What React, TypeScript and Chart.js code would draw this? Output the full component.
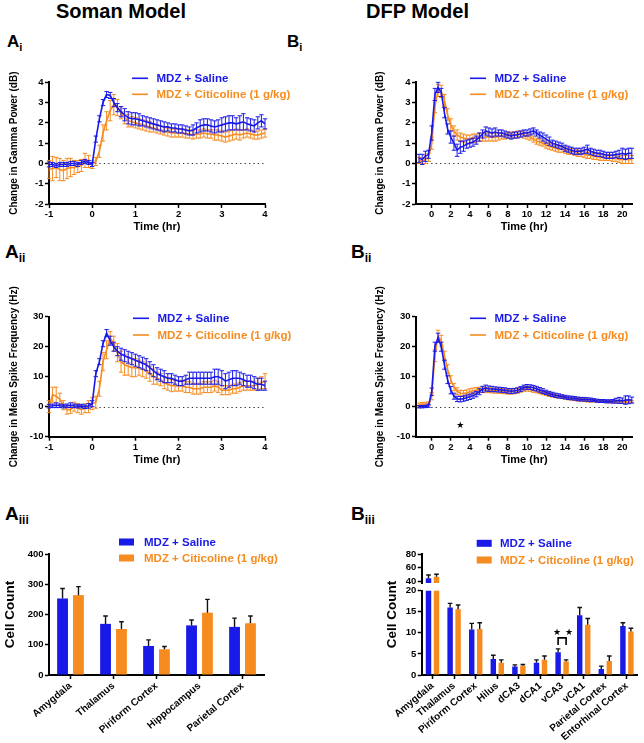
import React, { useEffect, useRef } from 'react';
import { Chart, registerables } from 'chart.js';

Chart.register(...registerables);

const FONT = "'Liberation Sans', Arial, Helvetica, sans-serif";
const BLUE = '#1919E8';
const ORANGE = '#F68B1F';
const LABEL_SALINE = 'MDZ + Saline';
const LABEL_CITI = 'MDZ + Citicoline (1 g/kg)';

// ---------- Soman model (A): 5-min bins, minutes from treatment ----------
const MIN_A = [
  -60, -55, -50, -45, -40, -35, -30, -25, -20, -15,
  -10, -5, 0, 5, 10, 15, 20, 25, 30, 35,
  40, 45, 50, 55, 60, 65, 70, 75, 80, 85,
  90, 95, 100, 105, 110, 115, 120, 125, 130, 135,
  140, 145, 150, 155, 160, 165, 170, 175, 180, 185,
  190, 195, 200, 205, 210, 215, 220, 225, 230, 235,
  240,
];
const AI_SALINE = [
  -0.05, -0.05, -0.1, -0.05, -0.05, -0.05, 0, 0, -0.05, 0.05,
  0.1, 0.05, -0.05, 1.2, 2.2, 3.0, 3.4, 3.35, 3.0, 2.75,
  2.55, 2.4, 2.25, 2.2, 2.2, 2.15, 2.1, 2.05, 2.0, 1.95,
  1.9, 1.85, 1.8, 1.8, 1.75, 1.75, 1.7, 1.7, 1.65, 1.6,
  1.65, 1.75, 1.85, 1.9, 1.9, 1.85, 1.8, 1.85, 1.9, 1.95,
  2.0, 2.0, 1.95, 2.0, 2.05, 1.95, 1.9, 1.85, 2.0, 2.1,
  1.95,
];
const AI_SALINE_ERR = [
  0.12, 0.1, 0.1, 0.1, 0.1, 0.1, 0.1, 0.1, 0.1, 0.1,
  0.1, 0.1, 0.1, 0.15, 0.15, 0.15, 0.15, 0.15, 0.2, 0.2,
  0.25, 0.3, 0.3, 0.3, 0.3, 0.3, 0.25, 0.25, 0.25, 0.25,
  0.25, 0.25, 0.25, 0.2, 0.2, 0.2, 0.2, 0.2, 0.2, 0.2,
  0.25, 0.25, 0.3, 0.3, 0.3, 0.3, 0.3, 0.3, 0.35, 0.35,
  0.35, 0.35, 0.3, 0.35, 0.4, 0.3, 0.3, 0.3, 0.3, 0.3,
  0.25,
];
const AI_CITI = [
  -0.3, -0.25, -0.2, -0.3, -0.35, -0.25, -0.2, -0.2, -0.15, -0.1,
  0.15, 0.1, -0.05, 0.1, 0.6, 1.5, 2.1, 2.6, 2.9, 2.75,
  2.5, 2.25, 2.1, 2.05, 2.0, 1.95, 1.9, 1.85, 1.8, 1.75,
  1.7, 1.65, 1.6, 1.55, 1.5, 1.5, 1.5, 1.5, 1.45, 1.45,
  1.4, 1.45, 1.45, 1.5, 1.45, 1.45, 1.4, 1.4, 1.35, 1.3,
  1.35, 1.4, 1.45, 1.4, 1.45, 1.5, 1.45, 1.4, 1.4, 1.45,
  1.5,
];
const AI_CITI_ERR = [
  0.45, 0.6, 0.5, 0.55, 0.5, 0.5, 0.45, 0.35, 0.3, 0.3,
  0.35, 0.3, 0.2, 0.2, 0.3, 0.4, 0.45, 0.5, 0.5, 0.4,
  0.3, 0.3, 0.3, 0.25, 0.25, 0.25, 0.25, 0.25, 0.25, 0.2,
  0.2, 0.2, 0.2, 0.2, 0.2, 0.2, 0.2, 0.2, 0.2, 0.2,
  0.2, 0.2, 0.2, 0.2, 0.2, 0.2, 0.25, 0.25, 0.25, 0.25,
  0.25, 0.25, 0.25, 0.25, 0.2, 0.2, 0.2, 0.2, 0.2, 0.2,
  0.2,
];
const AII_SALINE = [
  0.2, 0.3, 0.5, 0.3, 0.2, 0.3, 0.5, 0.3, 0.2, 0.2,
  0, 0.3, 1.0, 11, 15, 21, 24.5, 22, 20, 18.5,
  17.5, 17, 16.5, 16, 15.5, 15, 14.5, 14, 13, 12,
  11, 10.5, 10, 9.5, 9.5, 9, 8.5, 8.5, 9, 9.5,
  9.5, 9.5, 9.5, 9.5, 9.5, 9.5, 10, 10, 9.5, 8.5,
  9, 9.5, 9.5, 9.5, 9, 8.5, 8.5, 8, 7.5, 7.5,
  7,
];
const AII_SALINE_ERR = [
  0.6, 0.6, 0.8, 0.6, 0.6, 0.6, 0.8, 0.6, 0.6, 0.6,
  0.6, 0.8, 1.0, 1.0, 1.0, 1.0, 1.2, 1.5, 1.5, 1.5,
  2, 2, 2, 2, 2, 2, 2, 2, 2, 2,
  2, 2, 2, 1.5, 1.5, 1.5, 1.5, 1.5, 1.5, 2,
  2, 2, 2, 2, 2, 2, 2.5, 2.5, 2.5, 2.5,
  2.5, 2.5, 2.5, 2, 2, 2, 2, 2, 2, 2,
  1.5,
];
const AII_CITI = [
  0, 4, 3.5, 2.5, 0.5, -1, -1, 0, -0.5, -1,
  -0.5, 0, 1, 1.5, 6, 15, 19, 23, 21, 18,
  15, 14, 13.5, 13, 13, 13, 12.5, 12, 11, 10,
  9.5, 9, 8, 7.5, 7, 7, 7, 7, 6.5, 6.5,
  6, 6, 6, 6.5, 6.5, 6.5, 7, 6.5, 5.5, 5.5,
  5.5, 6, 6, 6.5, 7, 7, 7, 7, 7.5, 8,
  8.5,
];
const AII_CITI_ERR = [
  2, 2.5, 3, 2, 1.5, 1.5, 1.2, 1.5, 1.5, 1.5,
  1.5, 2, 2, 2, 2.5, 3, 3, 2, 2.5, 3,
  3.5, 3.5, 3, 3, 3, 2.5, 2.5, 2.5, 2.5, 2.5,
  2, 2, 2, 2, 2, 1.8, 1.8, 1.8, 1.8, 1.8,
  1.8, 1.8, 1.8, 1.8, 1.8, 1.8, 1.8, 1.8, 1.5, 1.5,
  1.5, 1.5, 1.5, 1.5, 1.5, 1.5, 1.5, 1.5, 2, 2,
  2.5,
];

// ---------- DFP model (B): 20-min bins, minutes from treatment ----------
const MIN_B = [
  -80, -60, -40, -20, 0, 20, 40, 60, 80, 100,
  120, 140, 160, 180, 200, 220, 240, 260, 280, 300,
  320, 340, 360, 380, 400, 420, 440, 460, 480, 500,
  520, 540, 560, 580, 600, 620, 640, 660, 680, 700,
  720, 740, 760, 780, 800, 820, 840, 860, 880, 900,
  920, 940, 960, 980, 1000, 1020, 1040, 1060, 1080, 1100,
  1120, 1140, 1160, 1180, 1200, 1220, 1240, 1260,
];
const BI_SALINE = [
  0.25, 0.2, 0.35, 0.45, 1.5, 3.4, 3.75, 3.5, 2.5, 1.7,
  1.3, 1.0, 0.65, 0.8, 0.85, 0.95, 1.0, 1.05, 1.15, 1.3,
  1.45, 1.6, 1.55, 1.5, 1.55, 1.5, 1.5, 1.45, 1.4, 1.35,
  1.4, 1.4, 1.45, 1.5, 1.5, 1.55, 1.6, 1.5, 1.4, 1.3,
  1.2, 1.1, 1.0, 0.95, 0.9, 0.85, 0.75, 0.7, 0.65, 0.6,
  0.6, 0.6, 0.65, 0.7, 0.6, 0.55, 0.5, 0.5, 0.45, 0.4,
  0.4, 0.4, 0.45, 0.45, 0.5, 0.45, 0.5, 0.5,
];
const BI_SALINE_ERR = [
  0.2, 0.25, 0.25, 0.2, 0.35, 0.3, 0.25, 0.2, 0.25, 0.25,
  0.3, 0.35, 0.3, 0.3, 0.25, 0.2, 0.2, 0.2, 0.2, 0.2,
  0.2, 0.2, 0.2, 0.2, 0.2, 0.15, 0.15, 0.15, 0.15, 0.15,
  0.15, 0.15, 0.15, 0.15, 0.15, 0.15, 0.15, 0.15, 0.15, 0.2,
  0.2, 0.2, 0.15, 0.15, 0.15, 0.15, 0.15, 0.15, 0.15, 0.15,
  0.15, 0.15, 0.15, 0.2, 0.15, 0.15, 0.15, 0.15, 0.15, 0.15,
  0.15, 0.15, 0.15, 0.2, 0.25, 0.25, 0.25, 0.25,
];
const BI_CITI = [
  0.15, 0.1, 0.2, 0.3, 1.0, 2.8, 3.6, 3.55, 3.1, 2.4,
  1.9, 1.6, 1.4, 1.3, 1.25, 1.2, 1.2, 1.25, 1.25, 1.3,
  1.3, 1.3, 1.3, 1.3, 1.3, 1.3, 1.35, 1.35, 1.4, 1.4,
  1.4, 1.45, 1.45, 1.4, 1.35, 1.3, 1.2, 1.1, 1.05, 1.0,
  0.9, 0.85, 0.8, 0.75, 0.7, 0.7, 0.65, 0.6, 0.6, 0.55,
  0.5, 0.5, 0.45, 0.4, 0.4, 0.35, 0.35, 0.3, 0.3, 0.3,
  0.3, 0.25, 0.25, 0.2, 0.2, 0.2, 0.2, 0.2,
];
const BI_CITI_ERR = [
  0.15, 0.15, 0.2, 0.2, 0.3, 0.3, 0.3, 0.3, 0.3, 0.3,
  0.3, 0.25, 0.25, 0.2, 0.2, 0.2, 0.2, 0.2, 0.2, 0.2,
  0.2, 0.2, 0.2, 0.2, 0.2, 0.15, 0.15, 0.15, 0.15, 0.15,
  0.15, 0.15, 0.15, 0.15, 0.15, 0.15, 0.15, 0.15, 0.15, 0.15,
  0.15, 0.15, 0.15, 0.15, 0.15, 0.15, 0.15, 0.15, 0.15, 0.15,
  0.15, 0.15, 0.15, 0.15, 0.15, 0.15, 0.15, 0.15, 0.15, 0.15,
  0.15, 0.15, 0.15, 0.15, 0.2, 0.2, 0.2, 0.2,
];
const BII_SALINE = [
  0, 0, 0.1, 0.3, 5, 20, 23, 20, 14, 9,
  5.5, 3.5, 2.6, 2.5, 2.7, 3.0, 3.3, 3.7, 4.2, 5.0,
  5.8, 6.2, 6.0, 5.9, 5.8, 5.7, 5.6, 5.5, 5.3, 5.2,
  5.3, 5.5, 5.9, 6.4, 6.6, 6.5, 6.3, 6.0, 5.6, 5.2,
  4.8, 4.4, 4.1, 3.8, 3.6, 3.4, 3.2, 3.0, 2.9, 2.8,
  2.6, 2.5, 2.5, 2.4, 2.3, 2.2, 2.0, 1.9, 1.9, 1.8,
  1.8, 1.8, 2.0, 2.1, 2.0, 2.2, 2.3, 2.2,
];
const BII_SALINE_ERR = [
  0.4, 0.4, 0.4, 0.5, 1.2, 1.5, 1.5, 1.5, 1.5, 1.3,
  1.2, 1.0, 0.9, 0.9, 0.9, 0.9, 0.9, 0.9, 0.9, 1.0,
  1.0, 1.0, 0.9, 0.9, 0.8, 0.8, 0.8, 0.8, 0.8, 0.8,
  0.8, 0.8, 0.8, 0.8, 0.8, 0.8, 0.8, 0.8, 0.8, 0.8,
  0.7, 0.7, 0.7, 0.7, 0.7, 0.6, 0.6, 0.6, 0.6, 0.6,
  0.6, 0.6, 0.6, 0.6, 0.6, 0.5, 0.5, 0.5, 0.5, 0.5,
  0.5, 0.6, 0.8, 1.0, 0.9, 1.4, 1.3, 1.0,
];
const BII_CITI = [
  0.6, 0.8, 0.9, 1.0, 3.5, 17, 23.5, 22, 17, 12.5,
  9, 6.5, 5.2, 4.5, 4.4, 4.6, 5.0, 5.3, 5.5, 5.6,
  5.6, 5.5, 5.5, 5.4, 5.3, 5.3, 5.2, 5.1, 5.0, 5.0,
  5.1, 5.3, 5.6, 5.9, 6.0, 5.9, 5.6, 5.3, 5.0, 4.7,
  4.3, 4.0, 3.8, 3.6, 3.4, 3.2, 3.0, 2.8, 2.7, 2.5,
  2.4, 2.3, 2.2, 2.1, 2.0, 2.0, 1.9, 1.8, 1.8, 1.7,
  1.7, 1.7, 1.7, 1.7, 1.7, 1.7, 1.7, 1.7,
];
const BII_CITI_ERR = [
  0.6, 0.6, 0.6, 0.6, 1.2, 2.0, 2.0, 1.8, 1.5, 1.5,
  1.3, 1.2, 1.1, 1.0, 1.0, 1.0, 1.0, 0.9, 0.9, 0.9,
  0.9, 0.8, 0.8, 0.8, 0.8, 0.8, 0.8, 0.8, 0.8, 0.8,
  0.8, 0.8, 0.8, 0.8, 0.8, 0.8, 0.8, 0.7, 0.7, 0.7,
  0.6, 0.6, 0.6, 0.6, 0.5, 0.5, 0.5, 0.5, 0.5, 0.5,
  0.5, 0.5, 0.5, 0.5, 0.5, 0.4, 0.4, 0.4, 0.4, 0.4,
  0.4, 0.4, 0.4, 0.4, 0.4, 0.4, 0.4, 0.4,
];
const BII_STAR = { x: 3, y: -6.3 };

// ---------- Cell counts ----------
const AIII_REGIONS = ['Amygdala', 'Thalamus', 'Piriform Cortex', 'Hippocampus', 'Parietal Cortex'];
const AIII_SALINE = [253, 169, 96, 164, 159];
const AIII_SALINE_ERR = [33, 26, 20, 18, 29];
const AIII_CITI = [264, 152, 85, 206, 171];
const AIII_CITI_ERR = [28, 24, 9, 44, 24];

const BIII_REGIONS = ['Amygdala', 'Thalamus', 'Piriform Cortex', 'Hilus', 'dCA3', 'dCA1', 'vCA3', 'vCA1', 'Parietal Cortex', 'Entorhinal Cortex'];
const BIII_SALINE = [44.8, 16.0, 10.8, 3.8, 2.0, 2.9, 5.4, 14.2, 1.4, 11.6];
const BIII_SALINE_ERR = [4.8, 1.0, 1.45, 0.9, 0.4, 0.7, 0.8, 1.8, 0.7, 0.8];
const BIII_CITI = [47.2, 15.6, 10.9, 2.9, 2.2, 3.6, 3.2, 11.9, 3.3, 10.3];
const BIII_CITI_ERR = [3.4, 1.0, 1.5, 0.7, 0.3, 0.9, 0.4, 1.5, 1.2, 0.8];
const BIII_SIG_REGION = 'vCA3';
const BIII_SIG = { bracket: 8.8, legs: 7.1, stars: 10.0 };

// ---------- plugins ----------
const errorBars = {
  id: 'errorBars',
  afterDatasetDraw(chart: any, args: any) {
    const ds = chart.data.datasets[args.index];
    const errs = ds.errors as number[] | undefined;
    if (!errs) return;
    const meta = args.meta;
    const ys = chart.scales[meta.yAxisID];
    const { ctx, chartArea: a } = chart;
    ctx.save();
    ctx.beginPath();
    ctx.rect(a.left - 3, a.top - 1, a.right - a.left + 6, a.bottom - a.top + 1);
    ctx.clip();
    ctx.strokeStyle = ds.errorColor || ds.borderColor;
    ctx.lineWidth = ds.errorWidth || 1;
    const half = ds.capHalf || 2;
    meta.data.forEach((el: any, i: number) => {
      const raw = ds.data[i];
      const v = typeof raw === 'number' ? raw : raw && raw.y;
      if (v == null || errs[i] == null) return;
      const x = el.x;
      const yt = ys.getPixelForValue(v + errs[i]);
      const yb = ys.getPixelForValue(ds.errorUpOnly ? v : v - errs[i]);
      ctx.beginPath();
      ctx.moveTo(x, yt);
      ctx.lineTo(x, yb);
      ctx.moveTo(x - half, yt);
      ctx.lineTo(x + half, yt);
      if (!ds.errorUpOnly) {
        ctx.moveTo(x - half, yb);
        ctx.lineTo(x + half, yb);
      }
      ctx.stroke();
    });
    ctx.restore();
  },
};

const zeroLine = {
  id: 'zeroLine',
  beforeDatasetsDraw(chart: any) {
    const { ctx, chartArea: a, scales } = chart;
    const y = Math.round(scales.y.getPixelForValue(0)) + 0.5;
    ctx.save();
    ctx.strokeStyle = '#333';
    ctx.lineWidth = 1.2;
    ctx.setLineDash([1.3, 3.1]);
    ctx.beginPath();
    ctx.moveTo(a.left + 2, y);
    ctx.lineTo(a.right, y);
    ctx.stroke();
    ctx.restore();
  },
};

function seriesLegend(cfg: { kind: 'line' | 'box'; dx: number; dy: number; gap: number; w: number; h?: number; textDx: number; size: number }) {
  return {
    id: 'seriesLegend',
    afterDraw(chart: any) {
      const { ctx, chartArea: a } = chart;
      ctx.save();
      ctx.font = `bold ${cfg.size}px ${FONT}`;
      ctx.textBaseline = 'middle';
      ctx.textAlign = 'left';
      chart.data.datasets.forEach((ds: any, i: number) => {
        const y = a.top + cfg.dy + i * cfg.gap;
        const x = a.left + cfg.dx;
        const c = ds.borderColor || ds.backgroundColor;
        if (cfg.kind === 'line') {
          ctx.strokeStyle = c;
          ctx.lineWidth = 1.6;
          ctx.beginPath();
          ctx.moveTo(x, y);
          ctx.lineTo(x + cfg.w, y);
          ctx.stroke();
        } else {
          ctx.fillStyle = c;
          ctx.fillRect(x, y - (cfg.h || 7) / 2, cfg.w, cfg.h || 7);
        }
        ctx.fillStyle = c;
        ctx.fillText(ds.label, x + cfg.textDx, y + 0.5);
      });
      ctx.restore();
    },
  };
}

const TICK_FONT = { family: FONT, size: 9.5, weight: 'bold' as const };

function axisStyle() {
  return {
    border: { display: true, color: '#000', width: 2 },
    grid: { display: true, drawOnChartArea: false, drawTicks: true, tickLength: 4, tickColor: '#000', tickWidth: 1.5, offset: false },
  };
}

function yAxis(min: number, max: number, ticks: number[], width: number, title?: { text: string; size: number }) {
  return {
    min,
    max,
    ...axisStyle(),
    afterBuildTicks: (s: any) => {
      s.ticks = ticks.map((v) => ({ value: v }));
    },
    afterFit: (s: any) => {
      s.width = width;
    },
    ticks: { color: '#000', font: TICK_FONT, padding: 1.5, autoSkip: false },
    title: title
      ? { display: true, text: title.text, color: '#000', font: { family: FONT, size: title.size, weight: 'bold' }, padding: { top: 0, bottom: 0 } }
      : { display: false },
  };
}

const toPts = (mins: number[], vals: number[]) => mins.map((m, i) => ({ x: m / 60, y: vals[i] }));

function lineChart(o: any) {
  return {
    type: 'line',
    data: {
      datasets: [
        { label: LABEL_SALINE, data: toPts(o.mins, o.sal), errors: o.salErr, borderColor: BLUE, backgroundColor: BLUE, borderWidth: 1.6, pointRadius: 0, tension: 0, fill: false, capHalf: 2.2 },
        { label: LABEL_CITI, data: toPts(o.mins, o.cit), errors: o.citErr, borderColor: ORANGE, backgroundColor: ORANGE, borderWidth: 1.6, pointRadius: 0, tension: 0, fill: false, capHalf: 2.2 },
      ],
    },
    options: {
      responsive: false,
      animation: false,
      events: [],
      layout: { padding: o.pad },
      plugins: { legend: { display: false }, tooltip: { enabled: false } },
      scales: {
        x: {
          type: 'linear',
          min: o.xMin,
          max: o.xMax,
          ...axisStyle(),
          afterBuildTicks: (s: any) => {
            s.ticks = o.xTicks.map((v: number) => ({ value: v }));
          },
          afterFit: (s: any) => {
            s.height = o.xH;
          },
          ticks: { color: '#000', font: TICK_FONT, padding: 1, autoSkip: false, maxRotation: 0, minRotation: 0 },
          title: { display: true, text: 'Time (hr)', color: '#000', font: { family: FONT, size: 11, weight: 'bold' }, padding: { top: 0, bottom: 2 } },
        },
        y: yAxis(o.yMin, o.yMax, o.yTicks, o.yW, { text: o.yTitle, size: 10 }),
      },
    },
    plugins: [zeroLine, errorBars, seriesLegend({ kind: 'line', dx: o.legend.dx, dy: o.legend.dy, gap: o.legend.gap, w: 16, textDx: 24.5, size: 11.5 }), ...(o.extra || [])],
  };
}

function barDatasets(sal: number[], salErr: number[], cit: number[], citErr: number[]) {
  return [
    { label: LABEL_SALINE, data: sal, errors: salErr, errorUpOnly: true, errorColor: '#111', errorWidth: 1.4, capHalf: 2.3, backgroundColor: BLUE, borderColor: BLUE, borderWidth: 0, barPercentage: 0.68, categoryPercentage: 0.74 },
    { label: LABEL_CITI, data: cit, errors: citErr, errorUpOnly: true, errorColor: '#111', errorWidth: 1.4, capHalf: 2.3, backgroundColor: ORANGE, borderColor: ORANGE, borderWidth: 0, barPercentage: 0.68, categoryPercentage: 0.74 },
  ];
}

function barX(labels: string[], xH: number, show: boolean) {
  return {
    type: 'category',
    display: show,
    offset: true,
    ...axisStyle(),
    afterFit: (s: any) => {
      s.height = xH;
    },
    ticks: { color: '#000', font: { family: FONT, size: 10, weight: 'bold' }, padding: 1, autoSkip: false, maxRotation: 40, minRotation: 40 },
  };
}

const starPlugin = {
  id: 'starMark',
  afterDatasetsDraw(chart: any) {
    const { ctx, scales } = chart;
    ctx.save();
    ctx.fillStyle = '#000';
    ctx.font = `9px 'DejaVu Sans', sans-serif`;
    ctx.textAlign = 'center';
    ctx.textBaseline = 'middle';
    ctx.fillText('★', scales.x.getPixelForValue(BII_STAR.x), scales.y.getPixelForValue(BII_STAR.y));
    ctx.restore();
  },
};

const sigPlugin = {
  id: 'sigBracket',
  afterDatasetsDraw(chart: any) {
    const idx = BIII_REGIONS.indexOf(BIII_SIG_REGION);
    const xb = chart.getDatasetMeta(0).data[idx].x;
    const xo = chart.getDatasetMeta(1).data[idx].x;
    const y = chart.scales.y;
    const yTop = y.getPixelForValue(BIII_SIG.bracket);
    const yLeg = y.getPixelForValue(BIII_SIG.legs);
    const yStar = y.getPixelForValue(BIII_SIG.stars);
    const { ctx } = chart;
    ctx.save();
    ctx.strokeStyle = '#000';
    ctx.lineWidth = 1.6;
    ctx.beginPath();
    ctx.moveTo(xb, yLeg);
    ctx.lineTo(xb, yTop);
    ctx.lineTo(xo, yTop);
    ctx.lineTo(xo, yLeg);
    ctx.stroke();
    ctx.fillStyle = '#000';
    ctx.font = `9px 'DejaVu Sans', sans-serif`;
    ctx.textAlign = 'center';
    ctx.textBaseline = 'middle';
    ctx.fillText('★', xb - 1, yStar);
    ctx.fillText('★', xo + 3, yStar);
    ctx.restore();
  },
};

const biiiTitle = {
  id: 'biiiTitle',
  afterDraw(chart: any) {
    const { ctx } = chart;
    ctx.save();
    ctx.translate(72.5, 89.5);
    ctx.rotate(-Math.PI / 2);
    ctx.fillStyle = '#000';
    ctx.font = `bold 13.5px ${FONT}`;
    ctx.textAlign = 'center';
    ctx.textBaseline = 'middle';
    ctx.fillText('Cell Count', 0, 0);
    ctx.restore();
  },
};

// ---------- chart builders ----------
const makeAi = () =>
  lineChart({
    mins: MIN_A, sal: AI_SALINE, salErr: AI_SALINE_ERR, cit: AI_CITI, citErr: AI_CITI_ERR,
    xMin: -1, xMax: 4, xTicks: [-1, 0, 1, 2, 3, 4],
    yMin: -2, yMax: 4, yTicks: [-2, -1, 0, 1, 2, 3, 4], yTitle: 'Change in Gamma Power (dB)',
    pad: { left: 8, top: 27.3, right: 55, bottom: 4 }, yW: 41, xH: 32,
    legend: { dx: 83, dy: -4, gap: 16 },
  });

const makeBi = () =>
  lineChart({
    mins: MIN_B, sal: BI_SALINE, salErr: BI_SALINE_ERR, cit: BI_CITI, citErr: BI_CITI_ERR,
    xMin: -1.65, xMax: 21.05, xTicks: [0, 2, 4, 6, 8, 10, 12, 14, 16, 18, 20],
    yMin: -2, yMax: 4, yTicks: [-2, -1, 0, 1, 2, 3, 4], yTitle: 'Change in Gamma Power (dB)',
    pad: { left: 54, top: 27.3, right: 11.7, bottom: 4 }, yW: 42, xH: 32,
    legend: { dx: 54, dy: -4, gap: 16 },
  });

const makeAii = () =>
  lineChart({
    mins: MIN_A, sal: AII_SALINE, salErr: AII_SALINE_ERR, cit: AII_CITI, citErr: AII_CITI_ERR,
    xMin: -1, xMax: 4, xTicks: [-1, 0, 1, 2, 3, 4],
    yMin: -10, yMax: 30, yTicks: [-10, 0, 10, 20, 30], yTitle: 'Change in Mean Spike Frequency (Hz)',
    pad: { left: 8, top: 41.7, right: 55, bottom: 1.3 }, yW: 41, xH: 32,
    legend: { dx: 84, dy: 1.6, gap: 16.7 },
  });

const makeBii = () =>
  lineChart({
    mins: MIN_B, sal: BII_SALINE, salErr: BII_SALINE_ERR, cit: BII_CITI, citErr: BII_CITI_ERR,
    xMin: -1.65, xMax: 21.05, xTicks: [0, 2, 4, 6, 8, 10, 12, 14, 16, 18, 20],
    yMin: -10, yMax: 30, yTicks: [-10, 0, 10, 20, 30], yTitle: 'Change in Mean Spike Frequency (Hz)',
    pad: { left: 54, top: 41.7, right: 11.7, bottom: 1.3 }, yW: 42, xH: 32,
    legend: { dx: 54, dy: 1.6, gap: 16.7 },
    extra: [starPlugin],
  });

const barOptions = (pad: any, scales: any) => ({
  responsive: false,
  animation: false,
  events: [],
  layout: { padding: pad },
  plugins: { legend: { display: false }, tooltip: { enabled: false } },
  scales,
});

const makeAiii = () => ({
  type: 'bar',
  data: { labels: AIII_REGIONS, datasets: barDatasets(AIII_SALINE, AIII_SALINE_ERR, AIII_CITI, AIII_CITI_ERR) },
  options: barOptions(
    { left: 2, top: 29, right: 56, bottom: 2 },
    { x: barX(AIII_REGIONS, 66, true), y: yAxis(0, 400, [0, 100, 200, 300, 400], 47, { text: 'Cell Count', size: 13.5 }) }
  ),
  plugins: [errorBars, seriesLegend({ kind: 'box', dx: 70, dy: -12, gap: 16, w: 15, h: 7, textDx: 25, size: 11.5 })],
});

const makeBiiiUpper = () => ({
  type: 'bar',
  data: { labels: BIII_REGIONS, datasets: barDatasets(BIII_SALINE, BIII_SALINE_ERR, BIII_CITI, BIII_CITI_ERR) },
  options: barOptions(
    { left: 60, top: 29, right: 6.3, bottom: 160 },
    { x: barX(BIII_REGIONS, 0, false), y: yAxis(38, 80, [40, 60, 80], 41.7) }
  ),
  plugins: [errorBars, seriesLegend({ kind: 'box', dx: 55, dy: -10.7, gap: 16.7, w: 15, h: 7, textDx: 23.3, size: 11.5 })],
});

const makeBiiiLower = () => ({
  type: 'bar',
  data: { labels: BIII_REGIONS, datasets: barDatasets(BIII_SALINE, BIII_SALINE_ERR, BIII_CITI, BIII_CITI_ERR) },
  options: barOptions(
    { left: 60, top: 65.7, right: 6.3, bottom: 2 },
    { x: barX(BIII_REGIONS, 66, true), y: yAxis(0, 20, [0, 5, 10, 15, 20], 41.7) }
  ),
  plugins: [errorBars, sigPlugin, biiiTitle],
});

// ---------- components ----------
function ChartCanvas({ left, top, width, height, make }: { left: number; top: number; width: number; height: number; make: () => any }) {
  const ref = useRef<HTMLCanvasElement>(null);
  useEffect(() => {
    const chart = new Chart(ref.current as HTMLCanvasElement, make());
    return () => chart.destroy();
  }, []);
  return (
    <canvas
      ref={ref}
      width={width}
      height={height}
      style={{ position: 'absolute', left, top, width, height, display: 'block' }}
    />
  );
}

function PanelLabel({ left, top, size, letter, sub }: { left: number; top: number; size: number; letter: string; sub: string }) {
  return (
    <div style={{ position: 'absolute', left, top, fontFamily: FONT, fontWeight: 'bold', fontSize: size, lineHeight: `${size}px`, color: '#000', whiteSpace: 'nowrap' }}>
      {letter}
      <span style={{ fontSize: Math.round(size * 0.62), position: 'relative', top: Math.round(size * 0.22) }}>{sub}</span>
    </div>
  );
}

const headerStyle = (left: number): React.CSSProperties => ({
  position: 'absolute',
  left,
  top: 1,
  fontFamily: FONT,
  fontWeight: 'bold',
  fontSize: 20,
  lineHeight: '20px',
  color: '#000',
  whiteSpace: 'nowrap',
});

export default function App() {
  return (
    <div style={{ position: 'absolute', left: 0, top: 0, width: 644, height: 743, background: '#fff', overflow: 'hidden' }}>
      <div style={headerStyle(56)}>Soman Model</div>
      <div style={headerStyle(366)}>DFP Model</div>

      <PanelLabel left={7} top={32.6} size={17} letter="A" sub="i" />
      <PanelLabel left={287} top={32.6} size={17} letter="B" sub="i" />
      <PanelLabel left={5} top={242} size={19} letter="A" sub="ii" />
      <PanelLabel left={351} top={242} size={19} letter="B" sub="ii" />
      <PanelLabel left={5} top={504} size={19} letter="A" sub="iii" />
      <PanelLabel left={351} top={504} size={19} letter="B" sub="iii" />

      <ChartCanvas left={0} top={55} width={320} height={185} make={makeAi} />
      <ChartCanvas left={320} top={55} width={324} height={185} make={makeBi} />
      <ChartCanvas left={0} top={275} width={320} height={195} make={makeAii} />
      <ChartCanvas left={320} top={275} width={324} height={195} make={makeBii} />
      <ChartCanvas left={0} top={525} width={320} height={218} make={makeAiii} />
      <ChartCanvas left={320} top={525} width={324} height={218} make={makeBiiiUpper} />
      <ChartCanvas left={320} top={525} width={324} height={218} make={makeBiiiLower} />
    </div>
  );
}
